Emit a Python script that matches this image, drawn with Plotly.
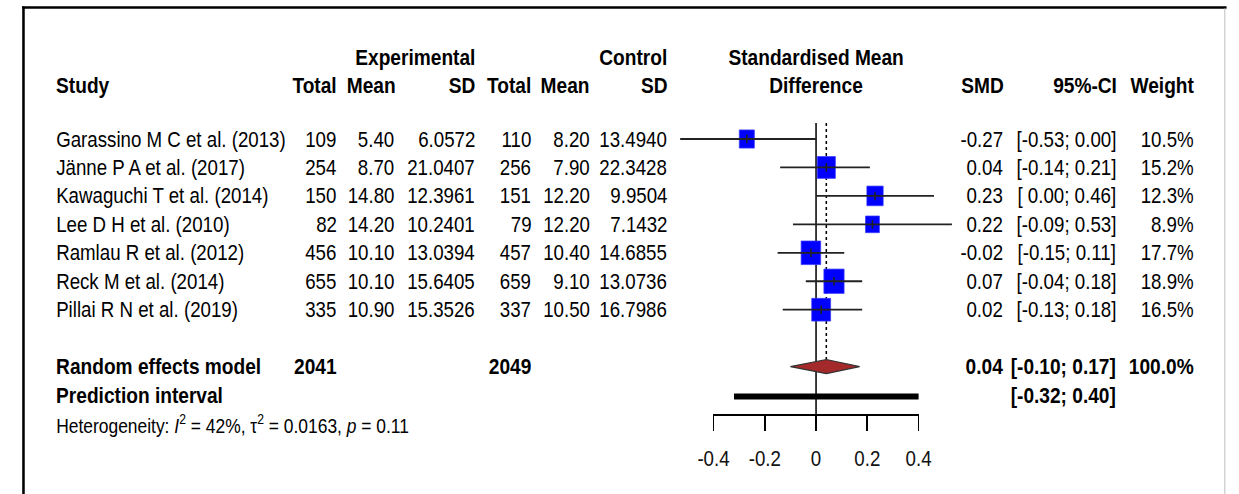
import math
import plotly.graph_objects as go

# ---------------- data ----------------
studies = ["Garassino M C et al. (2013)", "Jänne P A et al. (2017)", "Kawaguchi T et al. (2014)",
           "Lee D H et al. (2010)", "Ramlau R et al. (2012)", "Reck M et al. (2014)",
           "Pillai R N et al. (2019)"]
exp_total = [109, 254, 150, 82, 456, 655, 335]
exp_mean = [5.40, 8.70, 14.80, 14.20, 10.10, 10.10, 10.90]
exp_sd = [6.0572, 21.0407, 12.3961, 10.2401, 13.0394, 15.6405, 15.3526]
ctl_total = [110, 256, 151, 79, 457, 659, 337]
ctl_mean = [8.20, 7.90, 12.20, 12.20, 10.40, 9.10, 10.50]
ctl_sd = [13.4940, 22.3428, 9.9504, 7.1432, 14.6855, 13.0736, 16.7986]
smd = [-0.27, 0.04, 0.23, 0.22, -0.02, 0.07, 0.02]
ci_lo = [-0.53, -0.14, 0.00, -0.09, -0.15, -0.04, -0.13]
ci_hi = [0.00, 0.21, 0.46, 0.53, 0.11, 0.18, 0.18]
weight = [10.5, 15.2, 12.3, 8.9, 17.7, 18.9, 16.5]

re_total_exp = 2041
re_total_ctl = 2049
re_smd = 0.04
re_lo = -0.10
re_hi = 0.17
re_weight = 100.0
pi_lo = -0.32
pi_hi = 0.40
het_i2 = 42
het_tau2 = 0.0163
het_p = 0.11

x_ticks = [-0.4, -0.2, 0, 0.2, 0.4]
tick_labels = ["-0.4", "-0.2", "0", "0.2", "0.4"]

# ---------------- geometry ----------------
# The reference is an R forest plot squeezed horizontally; we draw it at a wider
# virtual width and compress the whole figure horizontally with CSS.
SX = 0.85
W_REF, H = 1239, 494
W = int(round(W_REF / SX))
X0_PX = 819.0 / SX          # pixel of SMD = 0
PPU = 262.5 / SX            # pixels per SMD unit
ROW0_PX = 139.0             # pixel of first study row
ROW_H = 28.45               # row height in px
AXIS_PX = 414.0


def px2row(p):
    return (p - ROW0_PX) / ROW_H


def rx(p_ref):
    """reference x pixel -> paper fraction of the virtual figure"""
    return (p_ref / SX) / W


FONT = "Liberation Sans, Arial, Helvetica, sans-serif"
FS = 22
FSB = 22.5
n = len(studies)
rows = list(range(n))
re_row = n + 1
pi_row = n + 2
het_row = n + 3

fig = go.Figure()

# reference lines
fig.add_trace(go.Scatter(x=[0, 0], y=[px2row(123), px2row(AXIS_PX)], mode="lines",
                         line=dict(color="black", width=1.8), hoverinfo="skip", showlegend=False))
fig.add_trace(go.Scatter(x=[re_smd, re_smd], y=[px2row(123), re_row - 0.25], mode="lines",
                         line=dict(color="black", width=1.8, dash="dot"), hoverinfo="skip",
                         showlegend=False))

# squares (area proportional to weight)
for i in rows:
    side = 5.6 * math.sqrt(weight[i])
    hx = side / 2 / PPU
    hy = side / 2 / ROW_H
    xs = [smd[i] - hx, smd[i] + hx, smd[i] + hx, smd[i] - hx, smd[i] - hx]
    ys = [i - hy, i - hy, i + hy, i + hy, i - hy]
    fig.add_trace(go.Scatter(x=xs, y=ys, mode="lines", fill="toself", fillcolor="#0000FF",
                             line=dict(color="#3A3AFF", width=0.8), hoverinfo="skip",
                             showlegend=False))

# CI lines
cx, cy = [], []
for i in rows:
    cx += [ci_lo[i], ci_hi[i], None]
    cy += [i, i, None]
fig.add_trace(go.Scatter(x=cx, y=cy, mode="lines", line=dict(color="#222222", width=1.8),
                         hoverinfo="skip", showlegend=False))
# estimate ticks
tx, ty = [], []
for i in rows:
    tx += [smd[i], smd[i], None]
    ty += [i - 0.15, i + 0.15, None]
fig.add_trace(go.Scatter(x=tx, y=ty, mode="lines", line=dict(color="#222222", width=1.8),
                         hoverinfo="skip", showlegend=False))

# diamond
fig.add_trace(go.Scatter(x=[re_lo, re_smd, re_hi, re_smd, re_lo],
                         y=[re_row, re_row - 0.25, re_row, re_row + 0.25, re_row],
                         mode="lines", fill="toself", fillcolor="#A3292B",
                         line=dict(color="#333333", width=1.2), hoverinfo="skip", showlegend=False))

# prediction interval
fig.add_trace(go.Scatter(x=[pi_lo, pi_hi], y=[pi_row + 0.05, pi_row + 0.05], mode="lines",
                         line=dict(color="black", width=6), hoverinfo="skip", showlegend=False))

# invisible trace for the tick axis
fig.add_trace(go.Scatter(x=x_ticks, y=[0] * len(x_ticks), xaxis="x2", yaxis="y2", mode="markers",
                         marker=dict(opacity=0), hoverinfo="skip", showlegend=False))

# ---------------- text ----------------
ann = []


def txt(xpx, y, s, anchor="right", size=None, bold=False):
    if size is None:
        size = FSB if bold else FS
    ann.append(dict(x=rx(xpx), y=y, xref="paper", yref="y", text=("<b>%s</b>" % s) if bold else s,
                    showarrow=False, xanchor=anchor, yanchor="middle",
                    font=dict(family=FONT, size=size, color="black")))


# headers
hr1 = px2row(57)
hr2 = px2row(85)
txt(472, hr1, "Experimental", bold=True)
txt(668, hr1, "Control", bold=True)
txt(819, hr1, "Standardised Mean", anchor="center", bold=True)
txt(39, hr2, "Study", anchor="left", bold=True)
txt(330, hr2, "Total", bold=True)
txt(391, hr2, "Mean", bold=True)
txt(472, hr2, "SD", bold=True)
txt(529, hr2, "Total", bold=True)
txt(589, hr2, "Mean", bold=True)
txt(668, hr2, "SD", bold=True)
txt(819, hr2, "Difference", anchor="center", bold=True)
txt(1013, hr2, "SMD", bold=True)
txt(1129, hr2, "95%-CI", bold=True)
txt(1208, hr2, "Weight", bold=True)


def fmt_ci(lo, hi):
    a = ("%.2f" % lo) if lo < 0 else (" %.2f" % lo)
    return "[%s; %.2f]" % (a, hi)


for i in rows:
    txt(39, i, studies[i], anchor="left")
    txt(330, i, str(exp_total[i]))
    txt(389, i, "%.2f" % exp_mean[i])
    txt(472, i, "%.4f" % exp_sd[i])
    txt(529, i, str(ctl_total[i]))
    txt(589, i, "%.2f" % ctl_mean[i])
    txt(668, i, "%.4f" % ctl_sd[i])
    txt(1012, i, "%.2f" % smd[i])
    txt(1128, i, fmt_ci(ci_lo[i], ci_hi[i]))
    txt(1207, i, "%.1f%%" % weight[i])

txt(39, re_row, "Random effects model", anchor="left", bold=True)
txt(330, re_row, str(re_total_exp), bold=True)
txt(529, re_row, str(re_total_ctl), bold=True)
txt(1012, re_row, "%.2f" % re_smd, bold=True)
txt(1128, re_row, fmt_ci(re_lo, re_hi), bold=True)
txt(1207, re_row, "%.1f%%" % re_weight, bold=True)
txt(39, pi_row, "Prediction interval", anchor="left", bold=True)
txt(1128, pi_row, fmt_ci(pi_lo, pi_hi), bold=True)
txt(39, het_row,
    "Heterogeneity: <i>I</i><sup>2</sup> = %d%%, τ<sup>2</sup> = %.4f, <i>p</i> = %.2f" % (het_i2, het_tau2, het_p),
    anchor="left", size=20.5)

# frame
shapes = [
    dict(type="line", xref="paper", yref="paper", x0=rx(6), x1=1,
         y0=1 - 7.5 / H, y1=1 - 7.5 / H, line=dict(color="black", width=2.5)),
    dict(type="line", xref="paper", yref="paper", x0=rx(7.5), x1=rx(7.5),
         y0=0, y1=1 - 6.5 / H, line=dict(color="black", width=3)),
    dict(type="line", xref="paper", yref="paper", x0=rx(1237.5), x1=rx(1237.5),
         y0=0, y1=1 - 8.5 / H, line=dict(color="#CCCCCC", width=1.5)),
]

fig.update_layout(
    width=W, height=H, margin=dict(l=0, r=0, t=0, b=0),
    paper_bgcolor="white", plot_bgcolor="rgba(0,0,0,0)",
    showlegend=False, annotations=ann, shapes=shapes,
    xaxis=dict(domain=[0, 1], range=[(0 - X0_PX) / PPU, (W - X0_PX) / PPU], visible=False,
               fixedrange=True),
    yaxis=dict(domain=[0, 1], range=[px2row(H), px2row(0)], visible=False, fixedrange=True),
    xaxis2=dict(domain=[(X0_PX - 0.4 * PPU) / W, (X0_PX + 0.4 * PPU) / W],
                range=[-0.4, 0.4], anchor="y2", showline=True, linecolor="black", linewidth=1.8,
                ticks="outside", ticklen=15, tickwidth=1.8, tickcolor="black",
                tickvals=x_ticks, ticktext=tick_labels, showgrid=False, zeroline=False,
                tickfont=dict(family=FONT, size=FS, color="#111111"), ticklabelstandoff=9,
                fixedrange=True),
    yaxis2=dict(domain=[(H - AXIS_PX) / H, 1], range=[0, 1], visible=False, fixedrange=True),
)

post = ("var gd=document.getElementById('{plot_id}');"
        "document.documentElement.style.overflow='hidden';"
        "document.body.style.overflow='hidden';document.body.style.margin='0';"
        "gd.style.transformOrigin='0 0';gd.style.transform='scaleX(" + str(SX) + ")';")

fig.write_html("out.html", post_script=post)
